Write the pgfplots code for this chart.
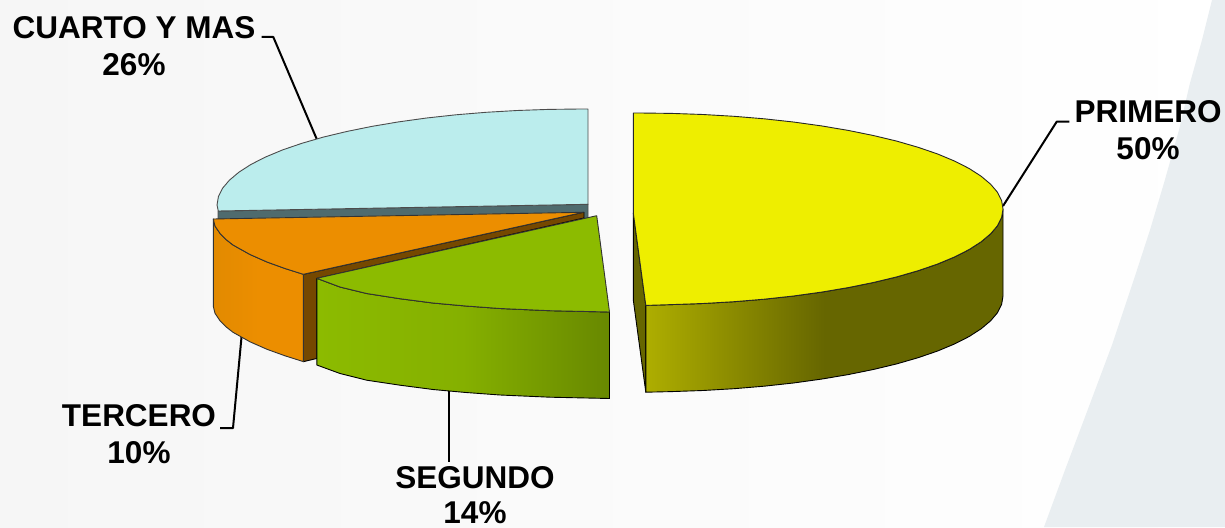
\documentclass[border=0pt]{standalone}
\usepackage{pgfplots}
\pgfplotsset{compat=1.18}
\usepackage{fontspec}
\setmainfont{Liberation Sans}
\definecolor{bgL}{HTML}{F6F6F6}
\definecolor{bgR}{HTML}{FFFFFF}
\definecolor{bgBlue}{HTML}{E9EEF1}
\definecolor{yTop}{HTML}{EEEE00}
\definecolor{yL}{HTML}{AEAE00}
\definecolor{yD}{HTML}{666600}
\definecolor{cyanTop}{HTML}{BBEDED}
\definecolor{cyanSide}{HTML}{4F6B6E}
\definecolor{oTop}{HTML}{EC8E00}
\definecolor{oL}{HTML}{E28A00}
\definecolor{brownS}{HTML}{754800}
\definecolor{gTop}{HTML}{8CBB00}
\definecolor{gMid}{HTML}{85B000}
\definecolor{gD}{HTML}{688800}
\newcommand{\lab}{\fontsize{31.5}{36}\selectfont\bfseries}
\begin{document}
\begin{tikzpicture}
\begin{axis}[
  scale only axis, width=1225pt, height=527pt,
  xmin=0, xmax=1225, ymin=0, ymax=527, y dir=reverse,
  hide axis, clip=true, no markers,
  every axis plot/.append style={line join=round, forget plot}
]
% background
\addplot[draw=none, left color=bgL, right color=bgR] coordinates {(0,0)(1225,0)(1225,527)(0,527)} -- cycle;
\addplot[draw=none, fill=bgBlue] coordinates {(1212,0)(1225,0)(1225,527)(1044,527)(1065,470)(1085,417)(1112,345)(1136,273)(1150,230)(1164,183)(1179,130)(1190,83)(1202,40)} -- cycle;
% leaders
\addplot[black, line width=2pt] coordinates {(1003,206)(1056.7,121.7)(1069.3,121.7)};
\addplot[black, line width=2pt] coordinates {(261.7,37)(273.3,37)(316.7,139)};
\addplot[black, line width=2pt] coordinates {(241.7,335)(233,428)(220,428)};
\addplot[black, line width=2pt] coordinates {(449,390)(449,462)};
% CUARTO Y MAS
\addplot[draw=black!70, line width=0.9pt, fill=cyanSide] coordinates {(218,211)(588,204.3)(588,219)(218,219)} -- cycle;
\addplot[draw=black!70, line width=0.9pt, fill=cyanTop] coordinates {(218.3,211)(217,205)(218.4,196.6)(222.5,188.3)(229.4,180.2)(238.9,172.2)(251,164.4)(265.6,157)(282.6,149.9)(301.9,143.3)(323.3,137.1)(346.7,131.5)(371.8,126.4)(398.5,121.9)(426.6,118)(455.9,114.8)(486.1,112.3)(517,110.5)(548.4,109.4)(580,109)(588,109)(588,204.3)} -- cycle;
% TERCERO
\addplot[draw=black, line width=0.9pt, fill=brownS] coordinates {(303.3,274.3)(583.3,212.3)(584,212.3)(584,218)(316.7,278.5)(316.7,358.5)(303.3,361.7)} -- cycle;
\addplot[draw=black!80, line width=0.9pt, left color=oL, right color=oTop, middle color=oTop] coordinates {(213.3,219)(215,226)(220,233.4)(226,239.5)(233,245)(250,254.5)(267,262)(285,268.5)(303.3,274.3)(303.3,361.6)(285,355.8)(267,349.3)(250,341.8)(233,332.3)(226,326.8)(220,320.7)(215,313.3)(213.3,306.3)} -- cycle;
\addplot[draw=black!80, line width=0.9pt, fill=oTop] coordinates {(213.3,219)(215,226)(220,233.4)(226,239.5)(233,245)(250,254.5)(267,262)(285,268.5)(303.3,274.3)(583.3,212.3)} -- cycle;
% SEGUNDO
\addplot[draw=black, line width=0.9pt, left color=gTop, right color=gD, middle color=gMid] coordinates {(316.8,278.3)(340,287)(366.7,293.5)(400,298.7)(433,303)(466,306)(500,308.5)(550,310.7)(609.5,312)(609.5,398.5)(550,397.2)(500,395)(466,392.5)(433,389.5)(400,385.2)(366.7,380.2)(340,373.5)(316.8,365)} -- cycle;
\addplot[draw=black!80, line width=0.9pt, fill=gTop] coordinates {(316.8,278.3)(340,287)(366.7,293.5)(400,298.7)(433,303)(466,306)(500,308.5)(550,310.7)(609.5,312)(596.7,215.7)} -- cycle;
% PRIMERO
\addplot[draw=black, line width=0.9pt, fill=yD] coordinates {(633.3,213)(645.8,305.4)(645.8,392.2)(633.3,300)} -- cycle;
\addplot[draw=black, line width=0.9pt, left color=yL, right color=yD, middle color=yD] coordinates {(1003,209)(1001.6,217.4)(997.5,225.7)(990.6,233.8)(981.1,241.8)(969,249.6)(954.4,257)(937.4,264.1)(918.1,270.7)(896.7,276.9)(873.3,282.5)(848.2,287.6)(821.5,292.1)(793.4,296)(764.1,299.2)(733.9,301.7)(703,303.5)(671.6,304.6)(645.8,305.4)(645.8,392.2)(671.6,391.6)(703,390.5)(733.9,388.7)(764.1,386.2)(793.4,383)(821.5,379.1)(848.2,374.6)(873.3,369.5)(896.7,363.9)(918.1,357.7)(937.4,351.1)(954.4,344)(969,336.6)(981.1,328.8)(990.6,320.8)(997.5,312.7)(1001.6,304.4)(1003,296)} -- cycle;
\addplot[draw=black!85, line width=0.9pt, fill=yTop] coordinates {(633.3,113)(640,113)(671.6,113.4)(703,114.5)(733.9,116.3)(764.1,118.8)(793.4,122)(821.5,125.9)(848.2,130.4)(873.3,135.5)(896.7,141.1)(918.1,147.3)(937.4,153.9)(954.4,161)(969,168.4)(981.1,176.2)(990.6,184.2)(997.5,192.3)(1001.6,200.6)(1003,209)(1001.6,217.4)(997.5,225.7)(990.6,233.8)(981.1,241.8)(969,249.6)(954.4,257)(937.4,264.1)(918.1,270.7)(896.7,276.9)(873.3,282.5)(848.2,287.6)(821.5,292.1)(793.4,296)(764.1,299.2)(733.9,301.7)(703,303.5)(671.6,304.6)(645.8,305.4)(633.3,213)} -- cycle;
% labels
\node[font=\lab] at (axis cs:134,28) {CUARTO Y MAS};
\node[font=\lab] at (axis cs:134,65) {26\%};
\node[font=\lab] at (axis cs:1148,112) {PRIMERO};
\node[font=\lab] at (axis cs:1148,149) {50\%};
\node[font=\lab] at (axis cs:139,416) {TERCERO};
\node[font=\lab] at (axis cs:139,453) {10\%};
\node[font=\lab] at (axis cs:475,478) {SEGUNDO};
\node[font=\lab] at (axis cs:475,513) {14\%};
\end{axis}
\end{tikzpicture}
\end{document}
